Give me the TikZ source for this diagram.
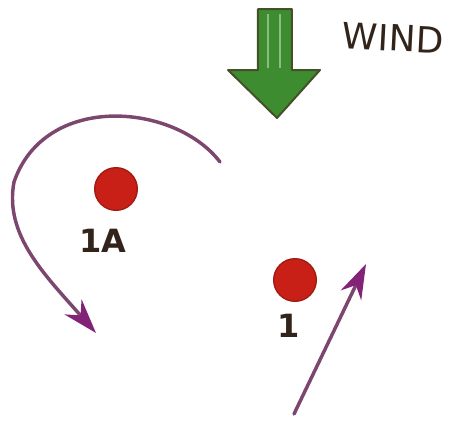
\documentclass[tikz,border=0pt]{standalone}
\usepackage{fontspec}
\setmainfont{DejaVu Sans}
\usetikzlibrary{arrows.meta}
\definecolor{windgreen}{RGB}{62,140,48}
\definecolor{windedge}{RGB}{70,80,40}
\definecolor{dotred}{RGB}{200,32,22}
\definecolor{pathpurple}{RGB}{125,70,110}
\definecolor{headpurple}{RGB}{130,35,120}
\definecolor{ink}{RGB}{50,36,26}
\tikzset{
  dot/.style={circle, fill=dotred, draw=dotred!80!black, line width=1pt, minimum size=32pt, inner sep=0pt},
  lbl/.style={text=ink, font=\bfseries\fontsize{24}{24}\selectfont, inner sep=0pt},
  track/.style={draw=pathpurple, line width=2.6pt, line cap=round},
  trackhead/.style={-{Stealth[length=26pt,width=17pt,color=headpurple]}}
}
\begin{document}
\begin{tikzpicture}[x=0.75pt,y=-0.75pt]
\useasboundingbox (0,0) rectangle (455,426);
% wind arrow
\draw[fill=windgreen, draw=windedge, line width=1.5pt, line join=round]
  (258,9) -- (292,9) -- (292,70) -- (320,70) -- (277,118) -- (228,70) -- (258,70) -- cycle;
\draw[windgreen!60!white, line width=2pt] (268,14) -- (268,68);
\draw[windgreen!60!white, line width=2pt] (280,14) -- (280,68);
\node[lbl, font=\fontsize{27}{27}\selectfont, rotate=-3] (wind) at (393,38) {WIND};
% dots and labels
\node[dot] (d1a) at (116,189) {};
\node[lbl] (l1a) at (103,241) {1A};
\node[dot] (d1) at (295,280) {};
\node[lbl] (l1) at (289,326) {1};
% curved track
\coordinate (cstart) at (220,162);
\coordinate (cend) at (96,333);
\draw[track, trackhead] (cstart) .. controls (175,103) and (45,92) .. (14,182)
  .. controls (4,235) and (45,275) .. (cend);
% straight track
\coordinate (sstart) at (294,414);
\coordinate (send) at (366,264);
\draw[track, trackhead] (sstart) -- (send);
\end{tikzpicture}
\end{document}
